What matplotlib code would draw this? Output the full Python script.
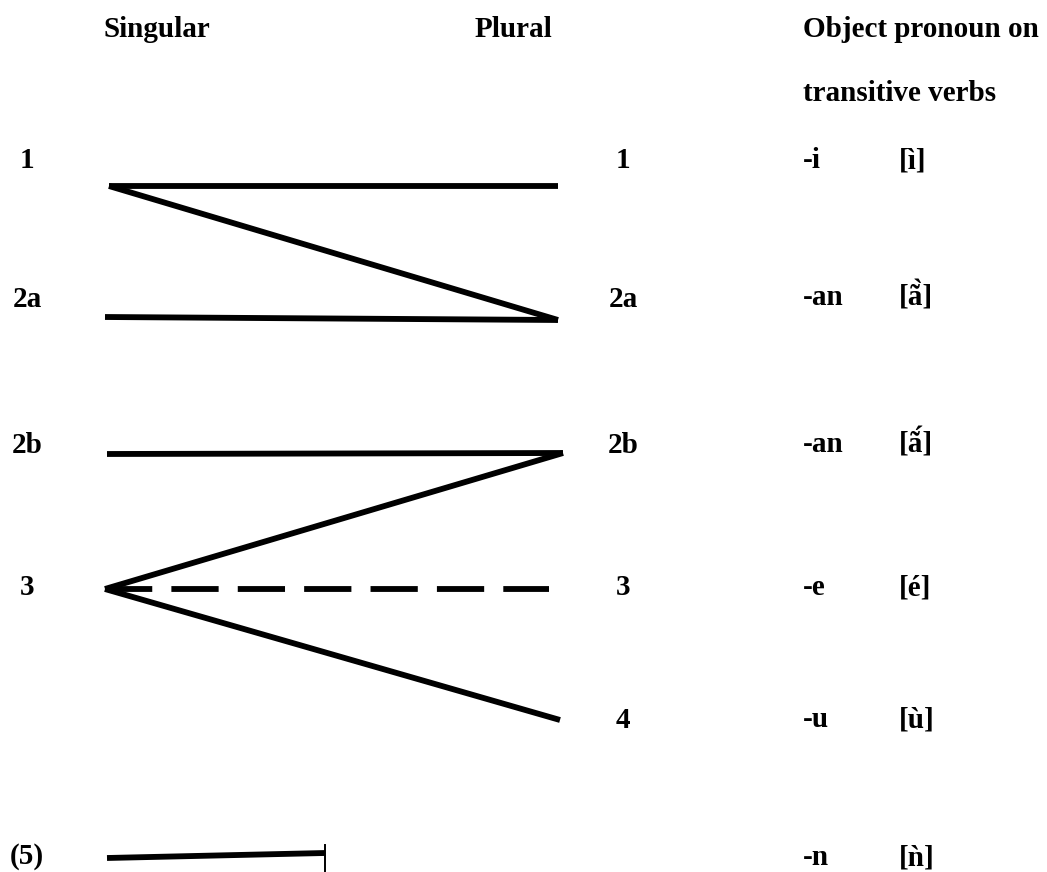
import matplotlib
matplotlib.use("Agg")
import matplotlib.pyplot as plt

# ---- data ----
headers = ["Singular", "Plural", "Object pronoun on", "transitive verbs"]
singular_labels = ["1", "2a", "2b", "3", "(5)"]
plural_labels = ["1", "2a", "2b", "3", "4"]
pronouns = ["-i", "-an", "-an", "-e", "-u", "-n"]
ipa = ["[ì]", "[ã\u0300]", "[ã\u0301]", "[é]", "[ù]", "[ǹ]"]
# connections: (singular index, plural index, style)
connections = [(0, 0, "solid"), (0, 1, "solid"), (1, 1, "solid"),
               (2, 2, "solid"), (3, 2, "solid"), (3, 3, "dashed"), (3, 4, "solid")]

# ---- layout (pixel coordinates) ----
W, H = 1047, 872
sg_label_y = [168, 307, 453, 595, 864]
pl_label_y = [168, 307, 453, 595, 728]
right_y = [168, 305, 452, 595, 727, 865]
sg_line_y = [186, 317, 454, 589, 858]
pl_line_y = [186, 320, 453, 589, 720]
pl_line_x = [558, 558, 563, 549, 560]
sg_line_x = [109, 105, 107, 105, 107]

fig = plt.figure(figsize=(W / 100, H / 100), dpi=100)
ax = fig.add_axes([0, 0, 1, 1])
ax.set_xlim(0, W)
ax.set_ylim(H, 0)
ax.axis("off")

font = dict(family="Liberation Serif", fontweight="bold", fontsize=21, color="black")
LW = 4.2

ax.text(157, 37, headers[0], ha="center", va="baseline", **font)
ax.text(513, 37, headers[1], ha="center", va="baseline", **font)
ax.text(803, 37, headers[2], ha="left", va="baseline", **font)
ax.text(803, 101, headers[3], ha="left", va="baseline", **font)

for lab, y in zip(singular_labels, sg_label_y):
    ax.text(27, y, lab, ha="center", va="baseline", **font)
for lab, y in zip(plural_labels, pl_label_y):
    ax.text(623, y, lab, ha="center", va="baseline", **font)
for p, ph, y in zip(pronouns, ipa, right_y):
    ax.text(803, y, p, ha="left", va="baseline", **font)
    ax.text(899, y, ph, ha="left", va="baseline", **font)

for s, p, style in connections:
    x0, y0 = sg_line_x[s], sg_line_y[s]
    x1, y1 = pl_line_x[p], pl_line_y[p]
    if style == "dashed":
        ax.plot([x0, x1], [y0, y1], color="black", lw=LW,
                dashes=(8.1, 3.28), solid_capstyle="butt", dash_capstyle="butt")
    else:
        ax.plot([x0, x1], [y0, y1], color="black", lw=LW,
                solid_capstyle="butt", solid_joinstyle="miter")

# singular-only class (5) ending in a bar
ax.plot([sg_line_x[4], 325], [sg_line_y[4], 853], color="black", lw=LW, solid_capstyle="butt")
ax.plot([325, 325], [845, 872], color="black", lw=1.4)

fig.savefig("out.png", dpi=100, facecolor="white")
